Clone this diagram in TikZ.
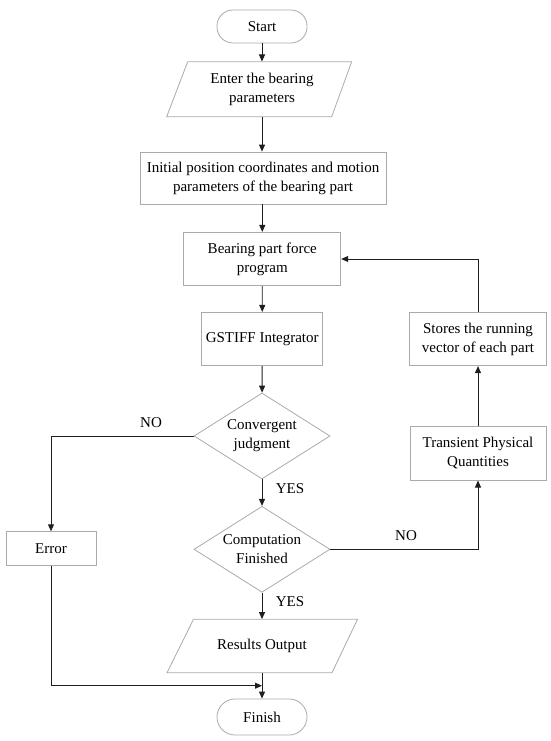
\documentclass[tikz,border=0pt]{standalone}
\usepackage{fontspec}
\setmainfont{Liberation Serif}
\usetikzlibrary{shapes.geometric,arrows.meta,calc}
\definecolor{boxgray}{RGB}{170,170,170}
\definecolor{linecol}{RGB}{30,30,30}
\begin{document}
\begin{tikzpicture}[x=1pt,y=-1pt,
  every node/.style={font=\fontsize{15}{19}\selectfont, align=center},
  box/.style={draw=boxgray, line width=0.8pt, inner sep=0pt},
  term/.style={box, rounded corners=16pt},
  dec/.style={box, diamond, aspect=1.58},
  arr/.style={draw=linecol, line width=0.9pt, -{Triangle[length=7pt,width=6pt]}},
  lbl/.style={inner sep=0pt}]
\useasboundingbox (0,0) rectangle (550,741);
\fill[white] (0,0) rectangle (550,741);

\node[term, minimum width=90pt, minimum height=33pt] (start) at (262,26.5) {Start};
\draw[box] (187.7,61.7) -- (351.7,61.7) -- (331.7,116.7) -- (166.7,116.7) -- cycle;
\node[minimum height=55pt, inner sep=0pt] (enter) at (262,89.2) {Enter the bearing\\parameters};
\node[box, minimum width=246pt, minimum height=52pt] (init) at (263,178) {Initial position coordinates and motion\\parameters of the bearing part};
\node[box, minimum width=157pt, minimum height=53.4pt] (force) at (262.3,259) {Bearing part force\\program};
\node[box, minimum width=121pt, minimum height=53.4pt] (gstiff) at (262.2,339) {GSTIFF Integrator};
\node[dec, minimum width=136pt, minimum height=86pt] (conv) at (262,436) {Convergent\\judgment};
\node[dec, minimum width=136pt, minimum height=86pt] (comp) at (262,549.3) {Computation\\Finished};
\draw[box] (193.5,619.3) -- (357.5,619.3) -- (332,672.7) -- (167,672.7) -- cycle;
\node[minimum height=53.4pt, inner sep=0pt] (results) at (262,646) {Results Output};
\node[term, minimum width=90pt, minimum height=36pt, rounded corners=18pt] (finish) at (262,717) {Finish};
\node[box, minimum width=90pt, minimum height=34pt] (error) at (51,548.7) {Error};
\node[box, minimum width=136pt, minimum height=53.4pt] (trans) at (478,453.4) {Transient Physical\\Quantities};
\node[box, minimum width=137pt, minimum height=53.4pt] (stores) at (478,339) {Stores the running\\vector of each part};
\coordinate (merge) at (262,685.7);

\node[lbl] (no1) at (151,423) {NO};
\node[lbl] (yes1) at (290,489) {YES};
\node[lbl] (no2) at (406,536) {NO};
\node[lbl] (yes2) at (290,601.7) {YES};

\draw[arr] (start) -- (enter);
\draw[arr] (enter) -- (enter |- init.north);
\draw[arr] (force |- init.south) -- (force);
\draw[arr] (force) -- (gstiff);
\draw[arr] (gstiff) -- (conv);
\draw[arr] (conv) -- (comp);
\draw[arr] (comp) -- (results);
\draw[arr] (results) -- (finish);
\draw[arr] (conv.west) -| (error.north);
\draw[arr] (error.south) |- (merge);
\draw[arr] (comp.east) -| (trans.south);
\draw[arr] (trans) -- (stores);
\draw[arr] (stores.north) |- (force.east);
\end{tikzpicture}
\end{document}
